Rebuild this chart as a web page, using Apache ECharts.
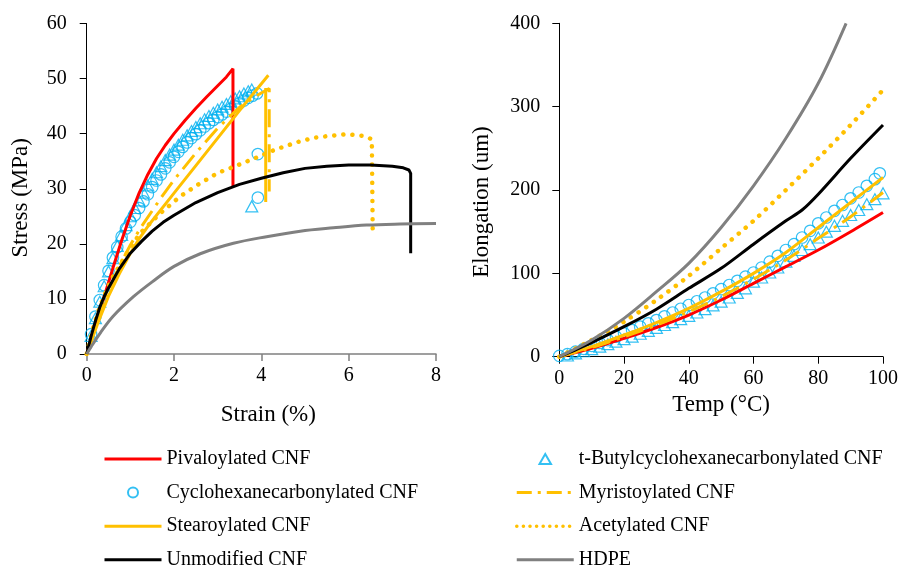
<!DOCTYPE html>
<html><head><meta charset="utf-8">
<script src="https://cdn.jsdelivr.net/npm/echarts@6/dist/echarts.min.js"></script>
<style>html,body{margin:0;padding:0;background:#fff}#c{width:901px;height:566px}</style>
</head><body><div id="c"></div>
<script>
// ---------- Left panel: Strain (%) vs Stress (MPa) ----------
const strainTicks = [0, 2, 4, 6, 8];
const stressTicks = [0, 10, 20, 30, 40, 50, 60];
const pivaloylatedStress = [[0,0],[0.2,5.2],[0.4,10.4],[0.6,15.6],[0.8,20.6],[1.0,25.2],[1.2,29.2],[1.4,32.6],[1.6,35.5],[1.8,37.9],[2.0,40],[2.25,42.4],[2.5,44.6],[2.75,46.7],[3.0,48.7],[3.2,50.3],[3.35,51.8],[3.35,30.5]];
const cyclohexaneStress = [[0.1,3.6],[0.2,6.8],[0.3,9.8],[0.4,12.5],[0.5,15.1],[0.6,17.5],[0.7,19.4],[0.8,21.3],[0.9,22.8],[1.0,24],[1.1,25.2],[1.2,26.5],[1.3,27.7],[1.4,29],[1.5,30.3],[1.6,31.5],[1.7,32.6],[1.8,33.7],[1.9,34.8],[2.0,35.8],[2.1,36.7],[2.2,37.6],[2.3,38.4],[2.4,39.2],[2.5,39.9],[2.6,40.6],[2.7,41.3],[2.8,41.9],[2.9,42.5],[3.0,43],[3.1,43.5],[3.2,44],[3.3,44.5],[3.4,45],[3.5,45.5],[3.6,46],[3.7,46.5],[3.8,46.9],[3.9,47.3],[3.92,36.3],[3.92,28.4]];
const tButylStress = [[0.1,3.3],[0.2,6.5],[0.3,9.5],[0.4,12.3],[0.5,15],[0.6,17.4],[0.7,19.6],[0.8,21.6],[0.9,23.4],[1.0,25],[1.1,26.5],[1.2,27.9],[1.3,29.3],[1.4,30.6],[1.5,31.8],[1.6,33],[1.7,34.1],[1.8,35.2],[1.9,36.2],[2.0,37.1],[2.1,38],[2.2,38.9],[2.3,39.7],[2.4,40.5],[2.5,41.2],[2.6,41.9],[2.7,42.6],[2.8,43.2],[2.9,43.8],[3.0,44.4],[3.1,44.9],[3.2,45.4],[3.3,45.9],[3.4,46.4],[3.5,46.8],[3.6,47.3],[3.7,47.7],[3.78,48],[3.78,26.8]];
const myristoylatedStress = [[0,0],[0.25,6],[0.5,11.5],[0.75,16],[1,19.8],[1.25,23.1],[1.5,26],[1.75,28.9],[2,31.6],[2.5,36.5],[3,41],[3.5,44.8],[3.85,46.7],[4.18,48.2],[4.18,29.5]];
const stearoylatedStress = [[0,0],[0.25,5.5],[0.5,10.5],[0.75,14.6],[1,18.3],[1.2,20.9],[1.45,23.7],[2,29.2],[2.5,34.2],[3,39.2],[3.5,44.2],[4.16,50.6],['-','-'],[4.1,48.3],[4.1,27.6]];
const acetylatedStress = [[0,0],[0.15,4.8],[0.3,8.6],[0.45,11.5],[0.6,14],[0.92,18.3],[1.22,21.9],[1.68,25.5],[2.14,28.6],[2.6,31],[3.01,32.9],[3.47,34.3],[3.9,35.7],[4.35,37.2],[4.84,38.5],[5.23,39.3],[5.57,39.6],[5.95,39.9],[6.33,39.6],[6.53,39],[6.55,22.8]];
const unmodifiedStress = [[0,0],[0.1,3.2],[0.2,6],[0.3,8.5],[0.4,10.4],[0.5,12],[0.75,15.5],[1,18.3],[1.25,20.4],[1.5,22.3],[1.75,23.9],[2,25.2],[2.5,27.5],[3,29.3],[3.5,30.8],[4,31.9],[4.5,32.9],[5,33.7],[5.5,34.1],[6,34.3],[6.5,34.3],[7,34.1],[7.25,33.8],[7.38,33.4],[7.42,32.8],[7.42,18.3]];
const hdpeStress = [[0,0],[0.1,1.3],[0.31,3.8],[0.6,6.8],[1.07,10.4],[1.5,13.1],[2,15.9],[2.6,18.2],[3.36,20.1],[4.12,21.3],[4.89,22.3],[5.65,22.9],[6.41,23.4],[7.18,23.6],[8,23.7]];

// ---------- Right panel: Temp (°C) vs Elongation (um) ----------
const tempTicks = [0, 20, 40, 60, 80, 100];
const elongTicks = [0, 100, 200, 300, 400];
const pivaloylatedElong = [[0,0],[10,10],[20,22],[30,35],[40,50],[50,68],[60,88],[70,108],[80,128],[90,150],[100,173]];
const cyclohexaneElong = [[0,1],[2.5,3],[5,6],[7.5,9.5],[10,13],[12.5,16.5],[15,20],[17.5,24],[20,28],[22.5,32],[25,36],[27.5,40],[30,44],[32.5,48.5],[35,53],[37.5,57.5],[40,62],[42.5,66.5],[45,71],[47.5,76],[50,81],[52.5,86],[55,91],[57.5,96],[60,101],[62.5,107],[65,114],[67.5,121],[70,128],[72.5,135],[75,143],[77.5,151],[80,160],[82.5,167],[85,175],[87.5,182],[90,190],[92.5,197],[95,205],[97.5,213],[99,220]];
const tButylElong = [[0,-1],[2.5,1.5],[5,4],[7.5,6.5],[10,9],[12.5,12],[15,15],[17.5,18],[20,21],[22.5,24],[25,27.5],[27.5,31],[30,34.5],[32.5,38],[35,41.5],[37.5,45],[40,49],[42.5,53],[45,57],[47.5,61.5],[50,66],[52.5,71],[55,76.5],[57.5,82],[60,90],[62.5,95],[65,101],[67.5,107],[70,114],[72.5,121],[75,128],[77.5,135],[80,143],[82.5,150],[85,157],[87.5,163],[90,170],[92.5,176],[95,183],[97.5,189],[100,196]];
const myristoylatedElong = [[0,0],[10,11],[20,24],[30,38],[40,54],[50,72],[60,93],[70,116],[80,142],[90,168],[100,197]];
const stearoylatedElong = [[0,0],[10,12],[20,26],[30,41],[40,58],[50,78],[60,100],[70,125],[80,155],[90,185],[100,215]];
const acetylatedElong = [[0,0],[10,20],[20,42],[30,68],[40,97],[50,130],[60,163],[70,200],[80,238],[90,278],[100,320]];
const unmodifiedElong = [[0,0],[10,17],[20,36],[30,57],[40,82],[50,106],[60,135],[70,163],[75,176],[80,195],[90,238],[100,278]];
const hdpeElong = [[0,0],[10,20],[20,46],[30,78],[40,112],[50,155],[60,205],[70,262],[80,328],[88.6,400]];

const legendLeft = ['Pivaloylated CNF','Cyclohexanecarbonylated CNF','Stearoylated CNF','Unmodified CNF'];
const legendRight = ['t-Butylcyclohexanecarbonylated CNF','Myristoylated CNF','Acetylated CNF','HDPE'];

const FONT = 'Liberation Serif';
const RED = '#FF0000', BLUE = '#00B0F0', GOLD = '#FFC000', BLACK = '#000000', GREY = '#808080';

function lineS(name, data, idx, color, extra) {
  return Object.assign({
    name, type: 'line', data, xAxisIndex: idx, yAxisIndex: idx,
    symbol: 'none', showSymbol: false, smooth: false, connectNulls: false,
    lineStyle: { color, width: 3 }, itemStyle: { color },
    emphasis: { disabled: true }, animation: false, clip: true
  }, extra || {});
}
function markS(name, data, idx, symbol, size) {
  return {
    name, type: 'scatter', data, xAxisIndex: idx, yAxisIndex: idx,
    symbol, symbolSize: size, symbolKeepAspect: true,
    itemStyle: { color: 'rgba(255,255,255,0)', borderColor: BLUE, borderWidth: 1.2 },
    emphasis: { disabled: true }, animation: false
  };
}
function seriesFor(idx, d, sm) {
  return [
    lineS('Pivaloylated CNF', d.piv, idx, RED, { smooth: sm }),
    markS('t-Butylcyclohexanecarbonylated CNF', d.tbu, idx, 'triangle', [12, 11]),
    markS('Cyclohexanecarbonylated CNF', d.cyc, idx, 'circle', 11.5),
    lineS('Myristoylated CNF', d.myr, idx, GOLD, { smooth: sm, lineStyle: { color: GOLD, width: 3, type: [18, 7, 3, 7] } }),
    lineS('Stearoylated CNF', d.ste, idx, GOLD, { smooth: sm }),
    lineS('Acetylated CNF', d.ace, idx, GOLD, { smooth: sm, lineStyle: { color: GOLD, width: 4.5, type: [0.1, 9], cap: 'round' } }),
    lineS('Unmodified CNF', d.unm, idx, BLACK, { smooth: sm }),
    lineS('HDPE', d.hdpe, idx, GREY, { smooth: 0.35 })
  ];
}

const axisLabel = { color: '#000', fontFamily: FONT, fontSize: 20 };
const nameStyle = { color: '#000', fontFamily: FONT, fontSize: 23 };

function legendData(names) {
  return names.map(function (n) {
    if (n === 't-Butylcyclohexanecarbonylated CNF') return { name: n, icon: 'path://M5,0L10,8.7L0,8.7Z' };
    if (n === 'Cyclohexanecarbonylated CNF') return { name: n, icon: 'circle' };
    if (n === 'Acetylated CNF') return { name: n, itemStyle: { opacity: 0 }, lineStyle: { width: 3.5, type: [0.1, 6.5], cap: 'round' } };
    if (n === 'Myristoylated CNF') return { name: n, itemStyle: { opacity: 0 }, lineStyle: { width: 3, type: [15, 6, 3, 6] } };
    return { name: n, itemStyle: { opacity: 0 }, lineStyle: { width: 3 } };
  });
}
const legendCommon = { orient: 'vertical', padding: 0, itemWidth: 57, itemHeight: 10, itemGap: 13.6, height: 160,
  textStyle: { color: '#000', fontFamily: FONT, fontSize: 20 }, selectedMode: false };

const chart = echarts.init(document.getElementById('c'), null, { renderer: 'canvas' });
chart.setOption({
  animation: false,
  backgroundColor: '#fff',
  grid: [
    { left: 86.7, right: 465, top: 23.5, bottom: 212 },
    { left: 559.3, right: 11.7, top: 23.3, bottom: 209.3 }
  ],
  xAxis: [
    { type: 'value', gridIndex: 0, min: strainTicks[0], max: strainTicks[strainTicks.length-1], interval: 2,
      name: 'Strain (%)', nameLocation: 'middle', nameGap: 49, nameTextStyle: Object.assign({ padding: [0, 0, 0, 14] }, nameStyle),
      axisLine: { lineStyle: { color: GREY, width: 1.5 } }, axisTick: { show: true, inside: false, length: 7, lineStyle: { color: GREY, width: 1.5 } },
      axisLabel: Object.assign({ margin: 12 }, axisLabel), splitLine: { show: false } },
    { type: 'value', gridIndex: 1, min: tempTicks[0], max: tempTicks[tempTicks.length-1], interval: 20,
      name: 'Temp (°C)', nameLocation: 'middle', nameGap: 35, nameTextStyle: nameStyle,
      axisLine: { lineStyle: { color: BLACK, width: 1 } }, axisTick: { show: true, length: 7, lineStyle: { color: BLACK } },
      axisLabel: Object.assign({ margin: 12 }, axisLabel), splitLine: { show: false } }
  ],
  yAxis: [
    { type: 'value', gridIndex: 0, min: stressTicks[0], max: stressTicks[stressTicks.length-1], interval: 10,
      name: 'Stress (MPa)', nameLocation: 'middle', nameGap: 54, nameRotate: 90, nameTextStyle: Object.assign({ padding: [0, 18, 0, 0] }, nameStyle),
      axisLine: { show: true, lineStyle: { color: BLACK, width: 1 } }, axisTick: { show: true, length: 7, lineStyle: { color: BLACK } },
      axisLabel: Object.assign({ margin: 20 }, axisLabel), splitLine: { show: false } },
    { type: 'value', gridIndex: 1, min: elongTicks[0], max: elongTicks[elongTicks.length-1], interval: 100,
      name: 'Elongation (um)', nameLocation: 'middle', nameGap: 66, nameRotate: 90, nameTextStyle: Object.assign({ padding: [0, 24, 0, 0] }, nameStyle),
      axisLine: { show: true, lineStyle: { color: BLACK, width: 1 } }, axisTick: { show: true, length: 7, lineStyle: { color: BLACK } },
      axisLabel: Object.assign({ margin: 19 }, axisLabel), splitLine: { show: false } }
  ],
  legend: [
    Object.assign({ data: legendData(legendLeft), left: 103, top: 449 }, legendCommon),
    Object.assign({ data: legendData(legendRight), left: 515, top: 449 }, legendCommon)
  ],
  series: [].concat(
    seriesFor(0, { piv: pivaloylatedStress, tbu: tButylStress, cyc: cyclohexaneStress, myr: myristoylatedStress, ste: stearoylatedStress, ace: acetylatedStress, unm: unmodifiedStress, hdpe: hdpeStress }, false),
    seriesFor(1, { piv: pivaloylatedElong, tbu: tButylElong, cyc: cyclohexaneElong, myr: myristoylatedElong, ste: stearoylatedElong, ace: acetylatedElong, unm: unmodifiedElong, hdpe: hdpeElong }, 0.3)
  )
});
</script></body></html>
